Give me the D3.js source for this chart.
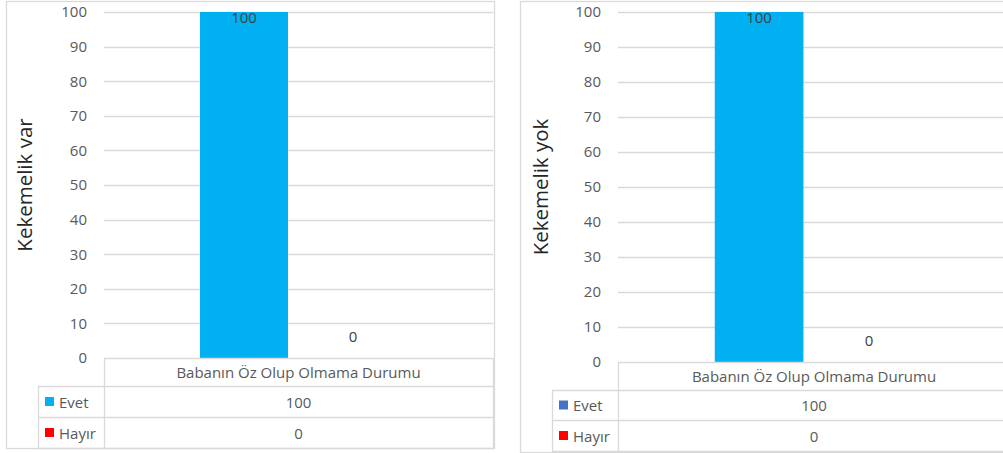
<!DOCTYPE html>
<html><head><meta charset="utf-8">
<script src="https://cdn.jsdelivr.net/npm/d3@7"></script>
<style>html,body{margin:0;padding:0;background:#fff;}svg{display:block;}</style>
</head><body>
<svg id="c" width="1003" height="453"></svg>
<script>
// ---- data ----
const categories = ["Babanın Öz Olup Olmama Durumu"];
const seriesNames = ["Evet", "Hayır"];
const chartTitles = ["Kekemelik var", "Kekemelik yok"];
const evetVar = [100];
const hayirVar = [0];
const evetYok = [100];
const hayirYok = [0];
const yTicks = [0, 10, 20, 30, 40, 50, 60, 70, 80, 90, 100];
const barColor = "#00B0F0";
const hayirColor = "#FF0000";
const legendEvetColors = ["#00B0F0", "#4472C4"];

const FONT = "'Open Sans', Lato, sans-serif";
const GRID = "#d9d9d9";
const svg = d3.select("#c");

const layouts = [
  {outer:[6,1,488,447], left:104, right:493, top:12, bottom:358, rows:[386,417,448], legLeft:38, titleX:24, tickRight:87},
  {outer:[520,1,490,451], left:618, right:1010, top:12, bottom:362, rows:[390,420,451], legLeft:552, titleX:540, tickRight:601}
];
const datasets = [[evetVar, hayirVar], [evetYok, hayirYok]];

layouts.forEach((L, ci) => {
  const g = svg.append("g");
  const series = datasets[ci];
  const y = d3.scaleLinear().domain([0, 100]).range([L.bottom, L.top]);
  const x0 = d3.scaleBand().domain(categories).range([L.left, L.right]).padding(0);
  const x1 = d3.scaleBand().domain(seriesNames).range([0, x0.bandwidth()]).paddingInner(0.193).paddingOuter(0.881);

  // outer border
  g.append("rect").attr("x", L.outer[0] + 0.5).attr("y", L.outer[1] + 0.5)
    .attr("width", L.outer[2]).attr("height", L.outer[3])
    .attr("fill", "none").attr("stroke", GRID).attr("stroke-width", 1.3);

  // gridlines
  g.append("g").selectAll("line").data(yTicks.filter(t => t > 0)).join("line")
    .attr("x1", L.left).attr("x2", L.right)
    .attr("y1", d => Math.round(y(d)) + 0.5).attr("y2", d => Math.round(y(d)) + 0.5)
    .attr("stroke", GRID).attr("stroke-width", 1.3);

  // y axis labels
  const yAxis = d3.axisLeft(y).tickValues(yTicks).tickSize(0).tickPadding(0);
  const ya = g.append("g").attr("transform", `translate(${L.tickRight},0)`).call(yAxis);
  ya.select(".domain").remove();
  ya.selectAll("text").attr("font-family", FONT).attr("font-size", 15).attr("fill", "#595959");

  // title
  g.append("text").attr("transform", `translate(${L.titleX},${(L.top + L.bottom) / 2}) rotate(-90)`)
    .attr("text-anchor", "middle").attr("dominant-baseline", "central")
    .attr("font-family", FONT).attr("font-size", 20.5).attr("fill", "#262626")
    .text(chartTitles[ci]);

  // bars
  const colors = [barColor, hayirColor];
  seriesNames.forEach((s, si) => {
    const vals = series[si];
    g.append("g").selectAll("rect").data(categories).join("rect")
      .attr("x", c => x0(c) + x1(s))
      .attr("width", x1.bandwidth())
      .attr("y", (c, i) => y(vals[i]))
      .attr("height", (c, i) => y(0) - y(vals[i]))
      .attr("fill", colors[si]);
    g.append("g").selectAll("text").data(categories).join("text")
      .attr("x", c => x0(c) + x1(s) + x1.bandwidth() / 2)
      .attr("y", (c, i) => Math.max(y(vals[i]) - 22, L.top + 5))
      .attr("text-anchor", "middle").attr("dominant-baseline", "central")
      .attr("font-family", FONT).attr("font-size", 15).attr("fill", "#404040")
      .text((c, i) => vals[i]);
  });

  // data table
  const T = g.append("g").attr("stroke", GRID).attr("stroke-width", 1.3);
  const hl = (x1_, x2_, yy) => T.append("line").attr("x1", x1_).attr("x2", x2_).attr("y1", yy + 0.5).attr("y2", yy + 0.5);
  const vl = (xx, y1_, y2_) => T.append("line").attr("x1", xx + 0.5).attr("x2", xx + 0.5).attr("y1", y1_).attr("y2", y2_);
  hl(L.left, L.right, L.bottom);
  hl(L.legLeft, L.right, L.rows[0]);
  hl(L.legLeft, L.right, L.rows[1]);
  hl(L.legLeft, L.right, L.rows[2]);
  vl(L.left, L.bottom, L.rows[2]);
  vl(L.right, L.bottom, L.rows[2]);
  vl(L.legLeft, L.rows[0], L.rows[2]);

  const rowTops = [L.bottom, L.rows[0], L.rows[1]];
  const rowBots = L.rows;
  // header
  g.append("g").selectAll("text").data(categories).join("text")
    .attr("x", c => x0(c) + x0.bandwidth() / 2)
    .attr("y", (rowTops[0] + rowBots[0]) / 2)
    .attr("text-anchor", "middle").attr("dominant-baseline", "central")
    .attr("font-family", FONT).attr("font-size", 15).attr("fill", "#595959")
    .text(c => c);
  const legCols = [legendEvetColors[ci], hayirColor];
  seriesNames.forEach((s, si) => {
    const cy = (rowTops[si + 1] + rowBots[si + 1]) / 2;
    g.append("rect").attr("x", L.legLeft + 7).attr("y", cy - 4.5).attr("width", 9).attr("height", 9).attr("fill", legCols[si]);
    g.append("text").attr("x", L.legLeft + 21).attr("y", cy).attr("dominant-baseline", "central")
      .attr("font-family", FONT).attr("font-size", 15).attr("fill", "#595959").text(s);
    g.append("g").selectAll("text").data(categories).join("text")
      .attr("x", c => x0(c) + x0.bandwidth() / 2).attr("y", cy)
      .attr("text-anchor", "middle").attr("dominant-baseline", "central")
      .attr("font-family", FONT).attr("font-size", 15).attr("fill", "#595959")
      .text((c, i) => series[si][i]);
  });
});
</script>
</body></html>
